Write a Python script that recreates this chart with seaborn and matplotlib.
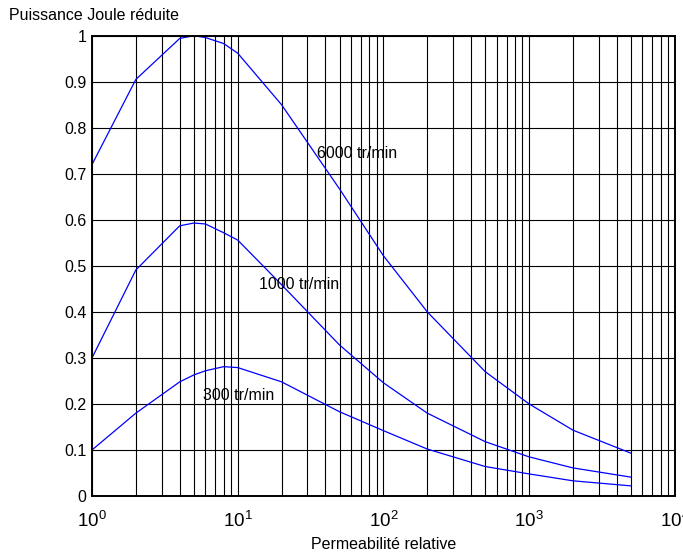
import pandas as pd
import numpy as np
import matplotlib
matplotlib.use("Agg")
import matplotlib.pyplot as plt
import seaborn as sns

# permeabilite relative (x) and reduced Joule power for each speed
mu_r = [1, 2, 4, 5, 6, 8, 10, 20, 50, 100, 200, 500, 1000, 2000, 5000]
p_6000 = [0.72, 0.905, 0.994, 1.0, 0.996, 0.983, 0.962, 0.85, 0.667, 0.522, 0.40, 0.27, 0.20, 0.143, 0.093]
p_1000 = [0.30, 0.491, 0.587, 0.593, 0.591, 0.572, 0.556, 0.459, 0.328, 0.246, 0.18, 0.118, 0.085, 0.061, 0.041]
p_300 = [0.10, 0.18, 0.248, 0.263, 0.272, 0.281, 0.279, 0.248, 0.183, 0.142, 0.102, 0.064, 0.048, 0.033, 0.022]
speeds = ["6000 tr/min", "1000 tr/min", "300 tr/min"]

df = pd.concat([
    pd.DataFrame({"mu": mu_r, "p": vals, "speed": name})
    for name, vals in zip(speeds, [p_6000, p_1000, p_300])
])

sns.set_style("white", {"text.color": "black", "axes.labelcolor": "black",
                        "xtick.color": "black", "ytick.color": "black"})
plt.rcParams["font.family"] = ["Liberation Sans", "DejaVu Sans"]

fig = plt.figure(figsize=(6.83, 5.55), dpi=100)
ax = fig.add_axes([0.1347, 0.1063, 0.988 - 0.1347, 0.9357 - 0.1063])

sns.lineplot(data=df, x="mu", y="p", hue="speed", palette=["#0000ff"] * 3,
             linewidth=0.9, legend=False, ax=ax, sort=False)

ax.set_xscale("log")
ax.set_xlim(1, 1e4)
ax.set_ylim(0, 1)
ax.set_yticks(np.arange(0, 1.01, 0.1))
ax.set_yticklabels(["0", "0.1", "0.2", "0.3", "0.4", "0.5", "0.6", "0.7", "0.8", "0.9", "1"])
ax.grid(True, which="both", axis="x", color="black", linewidth=0.8)
ax.grid(True, which="major", axis="y", color="black", linewidth=0.8)
ax.tick_params(which="both", length=0)
ax.tick_params(axis="y", labelsize=11.5, pad=4, labelcolor="black")
ax.tick_params(axis="x", labelsize=13.5, pad=11, labelcolor="black")
for s in ax.spines.values():
    s.set_color("black")
    s.set_linewidth(1.4)

ax.set_xlabel("Permeabilité relative", fontsize=11.5, labelpad=4, color="black")
ax.set_ylabel("")
fig.text(0.013, 0.985, "Puissance Joule réduite", fontsize=11.5, va="top", ha="left", color="black")

ax.text(35, 0.745, "6000 tr/min", fontsize=11.5, va="center", color="black")
ax.text(14, 0.46, "1000 tr/min", fontsize=11.5, va="center", color="black")
ax.text(5.8, 0.218, "300 tr/min", fontsize=11.5, va="center", color="black")

fig.savefig("out.png", dpi=100)
